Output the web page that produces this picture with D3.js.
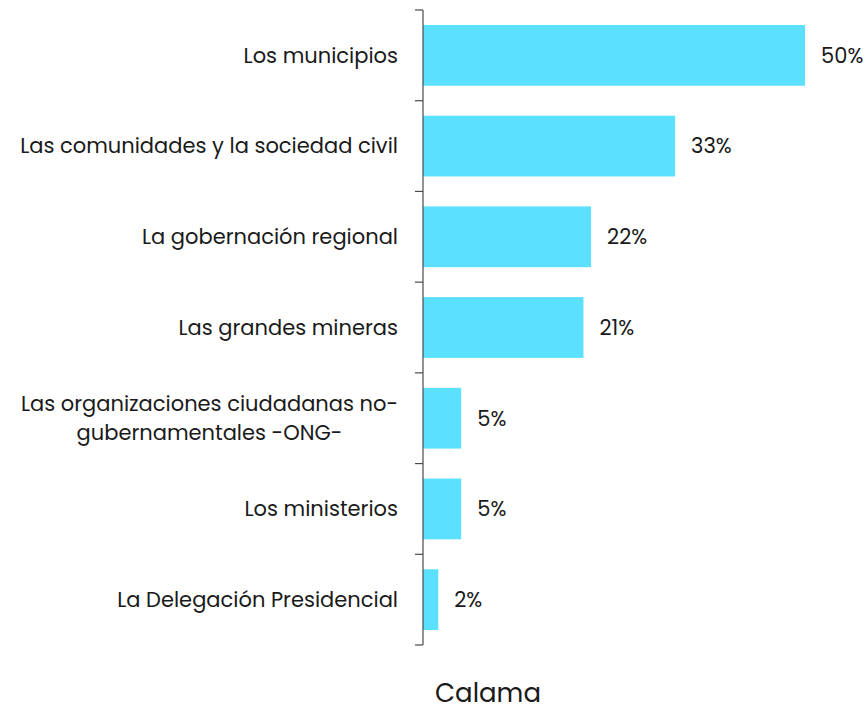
<!DOCTYPE html>
<html>
<head>
<meta charset="utf-8">
<script src="https://cdn.jsdelivr.net/npm/d3@7"></script>
<style>
  html, body { margin: 0; padding: 0; background: #fff; }
  svg { display: block; font-family: Poppins, "Open Sans", sans-serif; }
</style>
</head>
<body>
<svg id="chart" width="867" height="705"></svg>
<script>
// Who should lead — share of mentions, Calama
const categories = [
  "Los municipios",
  "Las comunidades y la sociedad civil",
  "La gobernación regional",
  "Las grandes mineras",
  "Las organizaciones ciudadanas no-|gubernamentales -ONG-",
  "Los ministerios",
  "La Delegación Presidencial"
];
const values = [50, 33, 22, 21, 5, 5, 2];
const valueLabels = ["50%", "33%", "22%", "21%", "5%", "5%", "2%"];
const title = "Calama";

const svg = d3.select("#chart");
const plotLeft = 423, plotTop = 10, plotBottom = 645;

const y = d3.scaleBand()
  .domain(categories)
  .range([plotTop, plotBottom])
  .paddingInner(0.33)
  .paddingOuter(0.165);

const x = d3.scaleLinear().domain([0, 50]).range([plotLeft, 805]);

// bars
svg.append("g").selectAll("rect")
  .data(categories)
  .join("rect")
  .attr("x", x(0))
  .attr("y", d => y(d))
  .attr("width", (d, i) => x(values[i]) - x(0))
  .attr("height", y.bandwidth())
  .attr("fill", "#5ce0ff");

// value labels
svg.append("g").selectAll("text")
  .data(categories)
  .join("text")
  .attr("x", (d, i) => x(values[i]) + 16)
  .attr("y", d => y(d) + y.bandwidth() / 2)
  .attr("dy", "0.35em")
  .attr("font-size", 21)
  .attr("fill", "#1a1a1a")
  .text((d, i) => valueLabels[i]);

// axis line and ticks at band boundaries
const axis = svg.append("g").attr("stroke", "#4a4a4a").attr("stroke-width", 1.2);
axis.append("line")
  .attr("x1", plotLeft).attr("x2", plotLeft)
  .attr("y1", plotTop).attr("y2", plotBottom);
const step = y.step();
const bounds = categories.map(c => y(c) - (step - y.bandwidth()) / 2).concat([plotBottom]);
axis.selectAll("line.tick")
  .data(bounds)
  .join("line")
  .attr("class", "tick")
  .attr("x1", plotLeft - 8).attr("x2", plotLeft)
  .attr("y1", d => d).attr("y2", d => d);

// category labels (multi-line labels split on "|", lines centred in a right-aligned block)
const labelRight = 398;
const lineH = 29;
const labelG = svg.append("g").attr("font-size", 21).attr("fill", "#1a1a1a");
categories.forEach(c => {
  const lines = c.split("|");
  const cy = y(c) + y.bandwidth() / 2;
  const t = labelG.append("text");
  lines.forEach((ln, k) => {
    t.append("tspan")
      .attr("y", cy + (k - (lines.length - 1) / 2) * lineH)
      .attr("dy", "0.35em")
      .text(ln);
  });
  if (lines.length === 1) {
    t.attr("text-anchor", "end").selectAll("tspan").attr("x", labelRight);
  } else {
    const tspans = t.selectAll("tspan").nodes();
    const widths = tspans.map(n => n.getComputedTextLength());
    const w = d3.max(widths);
    t.attr("text-anchor", "middle").selectAll("tspan").attr("x", labelRight - w / 2);
  }
});

// title
svg.append("text")
  .attr("x", 488)
  .attr("y", 702)
  .attr("text-anchor", "middle")
  .attr("font-size", 26)
  .attr("fill", "#1a1a1a")
  .text(title);
</script>
</body>
</html>
